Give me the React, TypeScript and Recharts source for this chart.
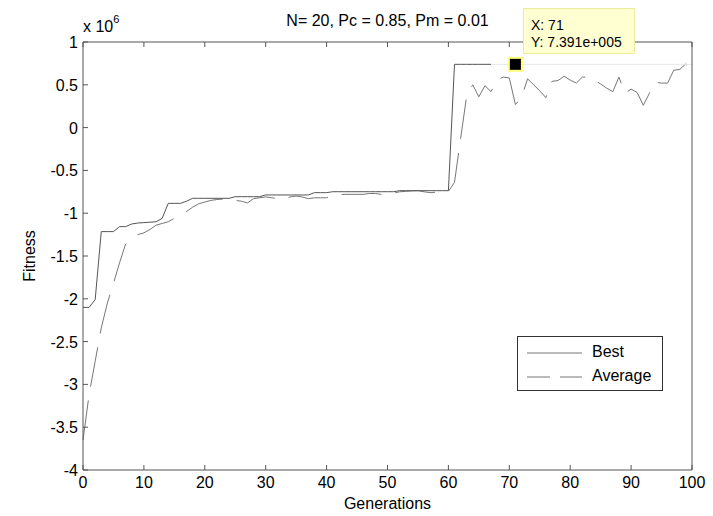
import React from "react";
import { LineChart, Line, XAxis, YAxis, ReferenceDot } from "recharts";

// fitness values in units of 10^6
const bestFitness = [
  -2.1, -2.1, -2.01, -1.215, -1.215, -1.215, -1.157, -1.157, -1.126, -1.115,
  -1.11, -1.105, -1.1, -1.06, -0.885, -0.885, -0.885, -0.86, -0.826, -0.826,
  -0.826, -0.826, -0.826, -0.826, -0.826, -0.807, -0.807, -0.807, -0.807, -0.807,
  -0.787, -0.787, -0.787, -0.787, -0.787, -0.787, -0.787, -0.787, -0.76, -0.76,
  -0.76, -0.749, -0.749, -0.749, -0.749, -0.749, -0.749, -0.749, -0.749, -0.749,
  -0.749, -0.749, -0.737, -0.737, -0.737, -0.737, -0.737, -0.737, -0.737, -0.737,
  -0.737, 0.7391, 0.7391, 0.7391, 0.7391, 0.7391, 0.7391, 0.7391, 0.7391, 0.7391,
  0.7391, 0.7391, 0.7391, 0.7391, 0.7391, 0.7391, 0.7391, 0.7391, 0.7391, 0.7391,
  0.7391, 0.7391, 0.7391, 0.7391, 0.7391, 0.7391, 0.7391, 0.7391, 0.7391, 0.7391,
  0.7391, 0.7391, 0.7391, 0.7391, 0.7391, 0.7391, 0.7391, 0.7391, 0.7391, 0.7391,
  0.7391,
];

const averageFitness = [
  -3.65, -3.12, -2.73, -2.34, -2.05, -1.82, -1.58, -1.36, -1.3, -1.25,
  -1.23, -1.19, -1.14, -1.12, -1.1, -1.06, -1.02, -0.98, -0.93, -0.89,
  -0.87, -0.85, -0.84, -0.835, -0.83, -0.85, -0.86, -0.88, -0.83, -0.82,
  -0.81, -0.82, -0.83, -0.83, -0.81, -0.8, -0.81, -0.83, -0.82, -0.82,
  -0.82, -0.79, -0.785, -0.78, -0.78, -0.78, -0.78, -0.77, -0.77, -0.78,
  -0.78, -0.765, -0.75, -0.745, -0.74, -0.737, -0.75, -0.76, -0.755, -0.75,
  -0.745, -0.64, -0.13, 0.37, 0.5, 0.36, 0.49, 0.42, 0.56, 0.59,
  0.58, 0.27, 0.35, 0.57, 0.5, 0.43, 0.35, 0.54, 0.55, 0.6,
  0.555, 0.52, 0.59, 0.59, 0.55, 0.51, 0.46, 0.42, 0.59, 0.4,
  0.45, 0.41, 0.26, 0.4, 0.53, 0.52, 0.52, 0.67, 0.68, 0.745,
  0.58,
];

const xTicks = [0, 10, 20, 30, 40, 50, 60, 70, 80, 90, 100];
const yTicks = [-4, -3.5, -3, -2.5, -2, -1.5, -1, -0.5, 0, 0.5, 1];

// best line turns faint after this generation in the picture
const fadeFrom = 67;
const markerGen = 71;

const data = bestFitness.map((b, i) => ({
  gen: i,
  bestHead: i <= fadeFrom ? b : null,
  bestTail: i >= fadeFrom ? b : null,
  avg: averageFitness[i],
}));

const FONT = '"Liberation Sans", Arial, Helvetica, sans-serif';
const AXIS = "#555";

const BottomTick = (p: any) => (
  <g>
    <line x1={p.x} x2={p.x} y1={p.y} y2={p.y - 5} stroke={AXIS} />
    <text x={p.x} y={p.y + 18} textAnchor="middle" fontSize={16} fill="#000" fontFamily={FONT}>
      {p.payload.value}
    </text>
  </g>
);

const TopTick = (p: any) => (
  <line x1={p.x} x2={p.x} y1={p.y} y2={p.y + 5} stroke={AXIS} />
);

const LeftTick = (p: any) => (
  <g>
    <line x1={p.x} x2={p.x + 5} y1={p.y} y2={p.y} stroke={AXIS} />
    <text x={p.x - 5} y={p.y + 6} textAnchor="end" fontSize={16} fill="#000" fontFamily={FONT}>
      {p.payload.value}
    </text>
  </g>
);

const RightTick = (p: any) => (
  <line x1={p.x} x2={p.x - 5} y1={p.y} y2={p.y} stroke={AXIS} />
);

const Marker = (p: any) => (
  <rect x={p.cx - 6.5} y={p.cy - 6.5} width={13} height={13} fill="#000" stroke="#ffff80" strokeWidth={2} />
);

export default function App() {
  return (
    <div style={{ position: "absolute", left: 0, top: 0, width: 713, height: 516, background: "#fff", fontFamily: FONT }}>
      <LineChart width={713} height={516} data={data} margin={{ top: 0, right: 0, bottom: 0, left: 0 }}>
        <XAxis
          dataKey="gen"
          type="number"
          domain={[0, 100]}
          ticks={xTicks}
          height={46}
          tickSize={0}
          tickMargin={0}
          tickLine={false}
          axisLine={{ stroke: AXIS }}
          tick={BottomTick}
          interval={0}
        />
        <XAxis
          xAxisId="top"
          orientation="top"
          dataKey="gen"
          type="number"
          domain={[0, 100]}
          ticks={xTicks}
          height={42}
          tickSize={0}
          tickMargin={0}
          tickLine={false}
          axisLine={{ stroke: AXIS }}
          tick={TopTick}
          interval={0}
        />
        <YAxis
          type="number"
          domain={[-4, 1]}
          ticks={yTicks}
          width={83}
          tickSize={0}
          tickMargin={0}
          tickLine={false}
          axisLine={{ stroke: AXIS }}
          tick={LeftTick}
          interval={0}
        />
        <YAxis
          yAxisId="right"
          orientation="right"
          type="number"
          domain={[-4, 1]}
          ticks={yTicks}
          width={21}
          tickSize={0}
          tickMargin={0}
          tickLine={false}
          axisLine={{ stroke: AXIS }}
          tick={RightTick}
          interval={0}
        />
        <Line dataKey="avg" stroke="#777" strokeWidth={1} strokeDasharray="40 14" dot={false} isAnimationActive={false} />
        <Line dataKey="bestHead" stroke="#555" strokeWidth={1} dot={false} isAnimationActive={false} />
        <Line dataKey="bestTail" stroke="#e6e6e6" strokeWidth={1} dot={false} isAnimationActive={false} />
        <ReferenceDot x={markerGen} y={bestFitness[markerGen]} shape={Marker} ifOverflow="visible" />
      </LineChart>

      <div style={{ position: "absolute", left: 0, width: 775, top: 12, fontSize: 16, textAlign: "center", whiteSpace: "nowrap" }}>
        N= 20, Pc = 0.85, Pm = 0.01
      </div>
      <div style={{ position: "absolute", left: 83, top: 18, fontSize: 16, whiteSpace: "nowrap" }}>
        x 10<sup style={{ fontSize: 11, verticalAlign: 0, position: "relative", top: -9 }}>6</sup>
      </div>
      <div style={{ position: "absolute", left: 30, top: 256, fontSize: 16, transform: "translate(-50%, -50%) rotate(-90deg)", whiteSpace: "nowrap" }}>
        Fitness
      </div>
      <div style={{ position: "absolute", left: 0, width: 775, top: 495, fontSize: 16, textAlign: "center" }}>
        Generations
      </div>

      <div style={{ position: "absolute", left: 517, top: 336, width: 144, height: 53, border: "1px solid #333", background: "#fff" }}>
        <svg width={144} height={53} style={{ position: "absolute", left: 0, top: 0 }}>
          <line x1={9} x2={64} y1={16} y2={16} stroke="#777" />
          <line x1={9} x2={64} y1={40} y2={40} stroke="#777" strokeDasharray="23 10" />
        </svg>
        <div style={{ position: "absolute", left: 74, top: 6, fontSize: 16 }}>Best</div>
        <div style={{ position: "absolute", left: 74, top: 30, fontSize: 16 }}>Average</div>
      </div>

      <div style={{ position: "absolute", left: 523, top: 8, width: 112, height: 46, background: "#ffffd2", border: "1px solid #ecec9c", fontSize: 14, lineHeight: "17px", boxSizing: "border-box", padding: "8px 0 0 7px", whiteSpace: "nowrap" }}>
        <div>X: 71</div>
        <div>Y: 7.391e+005</div>
      </div>
    </div>
  );
}
